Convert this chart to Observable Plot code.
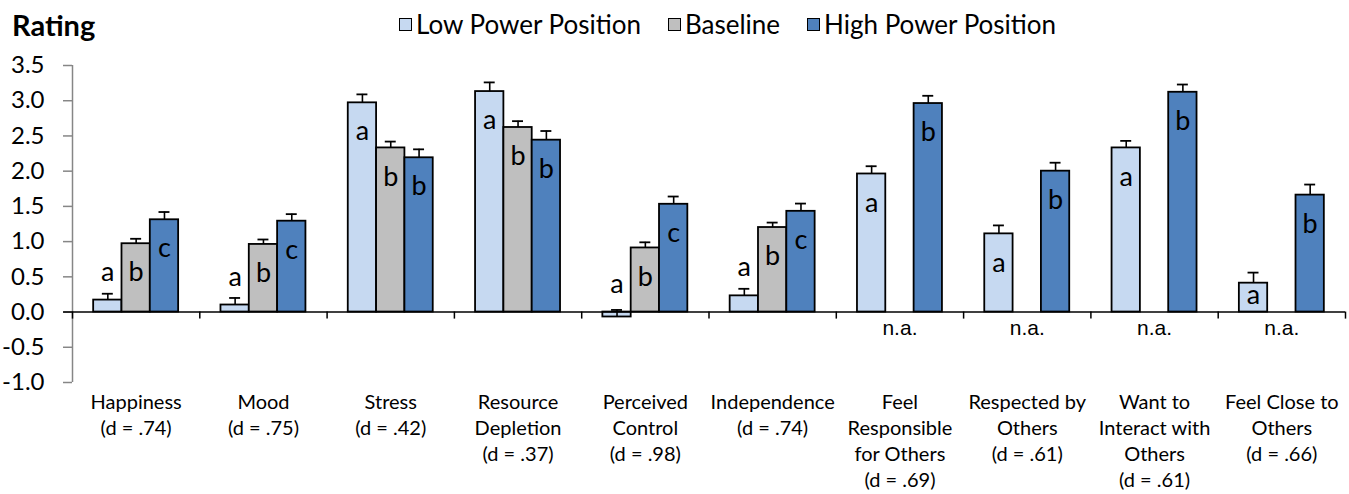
<!DOCTYPE html>
<html><head><meta charset="utf-8">
<script src="https://cdn.jsdelivr.net/npm/d3@7"></script>
<script src="https://cdn.jsdelivr.net/npm/@observablehq/plot@0.6"></script>
<style>
body{margin:0;background:#fff;}
#wrap{position:relative;width:1349px;height:494px;font-family:Lato,sans-serif;color:#000;}
#head{position:relative;height:48px;}
#title{position:absolute;left:12px;top:6px;font-weight:bold;font-size:29px;line-height:38px;}
#legend{position:absolute;left:399px;top:6px;display:flex;align-items:center;font-size:26px;line-height:36px;}
.sw{width:11px;height:11px;border:1px solid #000;margin-right:4px;}
.item{display:flex;align-items:center;margin-right:27px;}
</style></head>
<body><div id="wrap"><div id="head"><div id="title">Rating</div><div id="legend"></div></div><div id="chart"></div></div>
<script>
const categories = [
  "Happiness\n(d = .74)",
  "Mood\n(d = .75)",
  "Stress\n(d = .42)",
  "Resource\nDepletion\n(d = .37)",
  "Perceived\nControl\n(d = .98)",
  "Independence\n(d = .74)",
  "Feel\nResponsible\nfor Others\n(d = .69)",
  "Respected by\nOthers\n(d = .61)",
  "Want to\nInteract with\nOthers\n(d = .61)",
  "Feel Close to\nOthers\n(d = .66)"
];
const series = ["Low Power Position", "Baseline", "High Power Position"];
const colors = ["#C6D9F1", "#BFBFBF", "#4F81BD"];

const lowValues      = [0.17, 0.10, 2.97, 3.13, -0.07, 0.23, 1.96, 1.11, 2.33, 0.41];
const lowErrors      = [0.09, 0.10, 0.12, 0.13, 0.10, 0.10, 0.11, 0.12, 0.10, 0.15];
const lowLetters     = ["a", "a", "a", "a", "a", "a", "a", "a", "a", "a"];
const baselineValues = [0.97, 0.96, 2.33, 2.62, 0.91, 1.20, null, null, null, null];
const baselineErrors = [0.07, 0.07, 0.09, 0.09, 0.08, 0.07, null, null, null, null];
const baselineLetters= ["b", "b", "b", "b", "b", "b", null, null, null, null];
const highValues     = [1.31, 1.29, 2.19, 2.44, 1.53, 1.43, 2.96, 2.00, 3.12, 1.66];
const highErrors     = [0.11, 0.10, 0.12, 0.13, 0.11, 0.11, 0.11, 0.12, 0.11, 0.15];
const highLetters    = ["c", "c", "b", "b", "c", "c", "b", "b", "b", "b"];
const naLabel = "n.a.";
const yTicks = [-1.0, -0.5, 0.0, 0.5, 1.0, 1.5, 2.0, 2.5, 3.0, 3.5];

const seriesValues = [lowValues, baselineValues, highValues];
const seriesErrors = [lowErrors, baselineErrors, highErrors];
const seriesLetters = [lowLetters, baselineLetters, highLetters];

const barW = 0.2225;
const pad = (1 - 3 * barW) / 2;
const rows = [];
categories.forEach((c, i) => {
  series.forEach((s, k) => {
    const v = seriesValues[k][i];
    if (v == null) return;
    const x1 = i + pad + k * barW;
    rows.push({i, k, series: s, value: v, err: seriesErrors[k][i], letter: seriesLetters[k][i],
      x1, x2: x1 + barW, xc: x1 + barW / 2});
  });
});
const naIdx = categories.map((c, i) => i).filter(i => baselineValues[i] == null);

// legend
const lg = document.getElementById("legend");
series.forEach((s, k) => {
  const it = document.createElement("div"); it.className = "item";
  const sw = document.createElement("div"); sw.className = "sw"; sw.style.background = colors[k];
  const t = document.createElement("span"); t.textContent = s;
  it.appendChild(sw); it.appendChild(t); lg.appendChild(it);
});

const cap = 0.043;
const chart = Plot.plot({
  width: 1349, height: 446,
  marginLeft: 72, marginRight: 4, marginTop: 17, marginBottom: 112,
  style: {fontFamily: "Lato, sans-serif", background: "white", color: "black"},
  x: {domain: [0, 10], axis: null},
  y: {domain: [-1, 3.5], axis: null},
  color: {domain: series, range: colors},
  marks: [
    Plot.ruleX([0], {y1: -1, y2: 3.5, stroke: "#868686", strokeWidth: 1.5}),
    Plot.axisY({ticks: yTicks, tickSize: 9, tickPadding: 19, tickFormat: d => d.toFixed(1),
      fontSize: 24, stroke: "#868686", strokeWidth: 1.5, label: null}),
    Plot.rectY(rows, {x1: "x1", x2: "x2", y1: 0, y2: "value", fill: "series", stroke: "black", strokeWidth: 1.8}),
    Plot.ruleY([0], {x1: -0.07, x2: 10, stroke: "black", strokeWidth: 1.5, clip: false}),
    Plot.ruleX(d3.range(11), {y1: 0, y2: -0.1, stroke: "black", strokeWidth: 1.5}),
    Plot.ruleX(rows, {x: "xc", y1: "value", y2: d => d.value + d.err, stroke: "black", strokeWidth: 1.6}),
    Plot.ruleY(rows, {y: d => d.value + d.err, x1: d => d.xc - cap, x2: d => d.xc + cap, stroke: "black", strokeWidth: 1.8}),
    Plot.text(rows.filter(d => d.value >= 0.9), {x: "xc", y: "value", text: "letter", dy: 29, fontSize: 27, lineAnchor: "middle"}),
    Plot.text(rows.filter(d => d.value < 0.3), {x: "xc", y: d => Math.max(0, d.value), text: "letter", dy: -28, fontSize: 27, lineAnchor: "middle"}),
    Plot.text(rows.filter(d => d.value >= 0.3 && d.value < 0.9), {x: "xc", y: d => d.value / 2, text: "letter", dy: -2, fontSize: 27, lineAnchor: "middle"}),
    Plot.text(naIdx, {x: i => i + 0.5, y: 0, text: () => naLabel, dy: 16, fontSize: 21, fontFamily: "Liberation Sans", lineAnchor: "middle"}),
    Plot.text(categories, {x: (d, i) => i + 0.5, frameAnchor: "bottom", text: d => d, dy: 8,
      lineAnchor: "top", lineHeight: 1.3, fontSize: 20})
  ]
});
document.getElementById("chart").appendChild(chart);
</script>
</body></html>
